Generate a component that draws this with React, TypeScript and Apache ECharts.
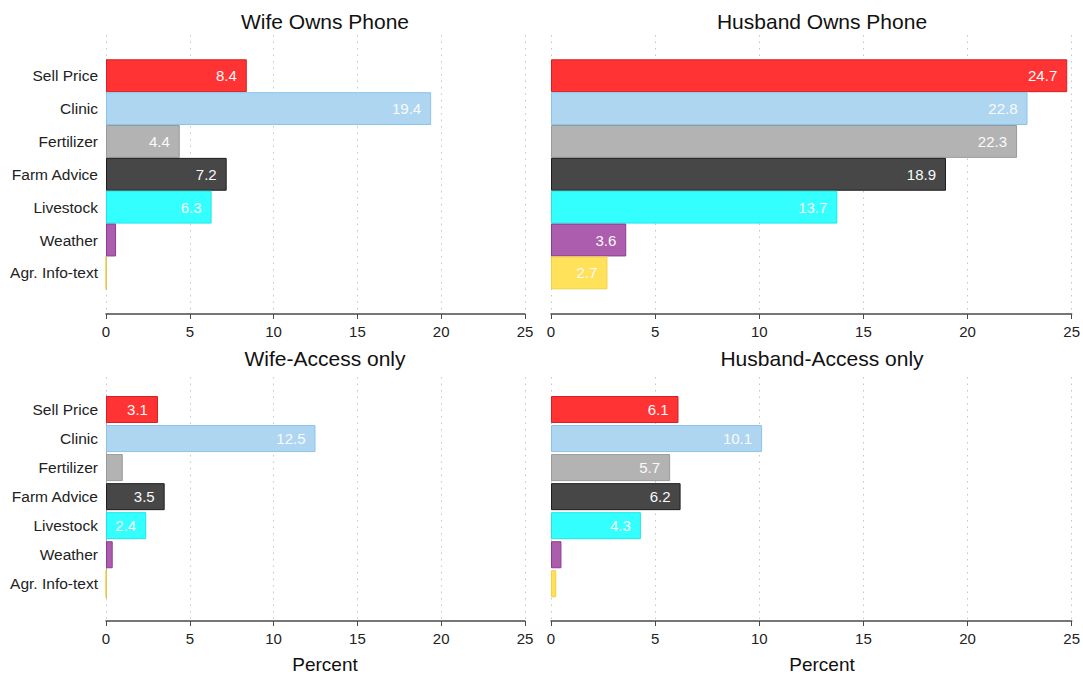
import React, { useEffect, useRef } from "react";
import * as echarts from "echarts";

const categories = ["Sell Price", "Clinic", "Fertilizer", "Farm Advice", "Livestock", "Weather", "Agr. Info-text"];
const wifeOwnsPhone = [8.4, 19.4, 4.4, 7.2, 6.3, 0.6, 0];
const husbandOwnsPhone = [24.7, 22.8, 22.3, 18.9, 13.7, 3.6, 2.7];
const wifeAccessOnly = [3.1, 12.5, 1.0, 3.5, 2.4, 0.4, 0];
const husbandAccessOnly = [6.1, 10.1, 5.7, 6.2, 4.3, 0.5, 0.25];
const panelTitles = ["Wife Owns Phone", "Husband Owns Phone", "Wife-Access only", "Husband-Access only"];
const xMin = 0;
const xMax = 25;
const xInterval = 5;

const barColors = ["#FF3333", "#AED6F1", "#B3B3B3", "#474747", "#33FFFF", "#AD5DAD", "#FFE15A"];
const borderColors = ["#D42020", "#8CC3EB", "#9A9A9A", "#1E1E1E", "#1FE5E5", "#8E3A94", "#F2D040"];

const FONT = "'Liberation Sans', Arial, Helvetica, sans-serif";

const layouts = [
  { left: 106, right: 525, frameTop: 35, axisY: 314, barTop: 59.3, barBottom: 289.3, gap: "0%", showCats: true, titleX: 325, titleY: 21, percent: false },
  { left: 551, right: 1073.5, frameTop: 35, axisY: 314, barTop: 59.3, barBottom: 289.3, gap: "0%", showCats: false, titleX: 822, titleY: 21, percent: false },
  { left: 106, right: 525, frameTop: 377, axisY: 621, barTop: 395, barBottom: 598.3, gap: "7%", showCats: true, titleX: 325, titleY: 358, percent: true },
  { left: 551, right: 1073.5, frameTop: 377, axisY: 621, barTop: 395, barBottom: 598.3, gap: "7%", showCats: false, titleX: 822, titleY: 358, percent: true },
];

const panelValues = [wifeOwnsPhone, husbandOwnsPhone, wifeAccessOnly, husbandAccessOnly];

export default function App() {
  const ref = useRef<HTMLDivElement>(null);
  useEffect(() => {
    if (!ref.current) return;
    const chart = echarts.init(ref.current, null, { renderer: "svg" });
    const grid: any[] = [];
    const xAxis: any[] = [];
    const yAxis: any[] = [];
    const series: any[] = [];
    const graphic: any[] = [];
    layouts.forEach((p, i) => {
      const w = p.right - p.left;
      grid.push({ left: p.left, width: w, top: p.frameTop, height: p.axisY - p.frameTop });
      grid.push({ left: p.left, width: w, top: p.barTop, height: p.barBottom - p.barTop });
      xAxis.push({
        gridIndex: 2 * i,
        type: "value",
        min: xMin,
        max: xMax,
        interval: xInterval,
        axisLine: { show: true, lineStyle: { color: "#4a4a4a", width: 1.5 } },
        axisTick: { show: true, length: 5, lineStyle: { color: "#4a4a4a" } },
        axisLabel: { fontSize: 15, color: "#222", margin: 10, fontFamily: FONT },
        splitLine: { show: true, lineStyle: { type: [1.5, 5], color: "#c4c4c4", width: 1 } },
      });
      yAxis.push({ gridIndex: 2 * i, type: "value", show: false, splitLine: { show: false } });
      xAxis.push({ gridIndex: 2 * i + 1, type: "value", min: xMin, max: xMax, show: false });
      yAxis.push({
        gridIndex: 2 * i + 1,
        type: "category",
        inverse: true,
        data: categories,
        axisLine: { show: p.showCats, lineStyle: { color: "#aaa", width: 1 } },
        axisTick: { show: false },
        axisLabel: { show: p.showCats, fontSize: 15.5, color: "#222", margin: 8, fontFamily: FONT },
        splitLine: { show: false },
      });
      series.push({
        type: "bar",
        xAxisIndex: 2 * i + 1,
        yAxisIndex: 2 * i + 1,
        barCategoryGap: p.gap,
        data: panelValues[i].map((v, k) => ({
          value: v,
          itemStyle: { color: barColors[k], borderColor: borderColors[k], borderWidth: 1 },
        })),
        label: {
          show: true,
          position: "insideRight",
          distance: 10,
          color: "#fafafa",
          fontSize: 15,
          fontFamily: FONT,
          formatter: (prm: any) => (prm.value >= 2 ? Number(prm.value).toFixed(1) : ""),
        },
      });
      graphic.push({
        type: "text",
        x: p.titleX,
        y: p.titleY,
        style: {
          text: panelTitles[i],
          fontSize: 21,
          fontFamily: FONT,
          fill: "#111",
          align: "center",
          verticalAlign: "middle",
          textAlign: "center",
          textVerticalAlign: "middle",
        },
      });
      if (p.percent) {
        graphic.push({
          type: "text",
          x: p.titleX,
          y: 664,
          style: {
            text: "Percent",
            fontSize: 19,
            fontFamily: FONT,
            fill: "#111",
            align: "center",
            verticalAlign: "middle",
            textAlign: "center",
            textVerticalAlign: "middle",
          },
        });
      }
    });
    chart.setOption({
      animation: false,
      backgroundColor: "#ffffff",
      textStyle: { fontFamily: FONT },
      grid,
      xAxis,
      yAxis,
      series,
      graphic,
    });
    return () => chart.dispose();
  }, []);
  return <div ref={ref} style={{ position: "fixed", left: 0, top: 0, width: 1083, height: 674 }} />;
}
